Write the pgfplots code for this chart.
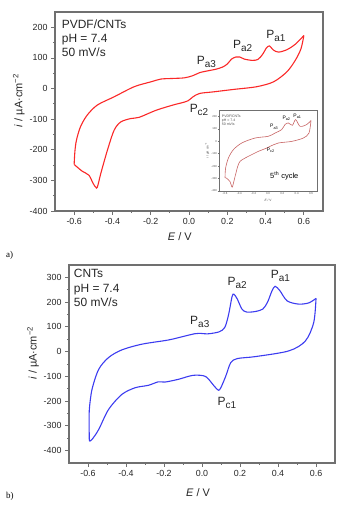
\documentclass[border=0pt]{standalone}
\usepackage{pgfplots}
\pgfplotsset{compat=1.18}
\usepackage{fontspec}
\setmainfont{Liberation Sans}
\newfontfamily\panelfont{Liberation Serif}
\definecolor{axgray}{RGB}{112,112,112}
\definecolor{cvred}{RGB}{250,40,40}
\definecolor{cvblue}{RGB}{60,60,240}
\definecolor{insred}{RGB}{200,100,100}
\newcommand{\Pk}[1]{P\raisebox{-3bp}{\fontsize{10}{10}\selectfont #1}}
\newcommand{\Pks}[1]{P\raisebox{-1.2bp}{\fontsize{3.8}{4}\selectfont #1}}
\tikzset{ann/.style={font=\fontsize{12}{13}\selectfont, anchor=base west, inner sep=0pt, text=black!85}}
\pgfplotsset{
  cvax/.style={
    scale only axis,
    axis line style={axgray, line width=1.2bp},
    every tick/.style={axgray, line width=0.8bp},
    xtick pos=bottom, ytick pos=left, tick align=outside,
    major tick length=4bp, minor tick length=2bp,
    minor x tick num=1, minor y tick num=1,
    tick label style={font=\fontsize{8.9}{10}\selectfont, text=black!85},
    /pgf/number format/assume math mode=true,
    xticklabel style={/pgf/number format/.cd, fixed, zerofill, precision=1},
    yticklabel style={/pgf/number format/.cd, fixed, precision=0},
    xtick={-0.6,-0.4,...,0.61},
    xlabel={\textit{E} / V},
    ylabel={\textit{i} / µA·cm\textsuperscript{−2}},
    every axis y label/.style={at={(axis description cs:-0.135,0.555)}, rotate=90, anchor=center, font=\fontsize{11}{12}\selectfont, text=black!85},
  },
}
\begin{document}
\begin{tikzpicture}[x=1bp,y=1bp]
\path[use as bounding box] (0,0) rectangle (351,512);
% ---------------- panel a
\begin{axis}[cvax, at={(55bp,301bp)}, anchor=south west, width=268bp, height=199bp,
  xmin=-0.7, xmax=0.7, ymin=-400, ymax=250, ytick={-400,-300,...,200},
  every axis x label/.style={at={(axis description cs:0.466,-0.13)}, anchor=center, font=\fontsize{11}{12}\selectfont, text=black!85}]
\addplot[cvred, line width=1.1bp, smooth, tension=0.5] coordinates {
(-0.6,-248) (-0.596,-205) (-0.588,-169) (-0.567,-125) (-0.532,-87) (-0.479,-54) (-0.391,-27) (-0.286,6) (-0.198,22) (-0.146,31) (-0.08,33) (-0.023,35) (0.02,42) (0.056,52) (0.1,58) (0.14,63) (0.175,70) (0.2,80) (0.222,96) (0.245,103) (0.265,103) (0.29,96) (0.33,92) (0.36,95) (0.385,112) (0.405,133) (0.421,139) (0.44,126) (0.468,119) (0.512,127) (0.556,145) (0.6,173)};
\addplot[cvred, line width=1.1bp, smooth, tension=0.5] coordinates {
(0.6,173) (0.585,130) (0.556,93) (0.512,55) (0.442,22) (0.354,6) (0.232,-3) (0.126,-11) (0.056,-16) (0.021,-27) (-0.005,-40) (-0.04,-47) (-0.084,-54) (-0.172,-71) (-0.26,-94) (-0.304,-98) (-0.356,-109) (-0.391,-136) (-0.426,-201) (-0.461,-278) (-0.475,-314) (-0.483,-325) (-0.5,-311) (-0.523,-283) (-0.558,-270) (-0.6,-248)};
\node[ann] at (axis cs:-0.665,197) {PVDF/CNTs};
\node[ann] at (axis cs:-0.665,149) {pH = 7.4};
\node[ann] at (axis cs:-0.665,103) {50 mV/s};
\node[ann] at (axis cs:0.04,77) {\Pk{a3}};
\node[ann] at (axis cs:0.23,132) {\Pk{a2}};
\node[ann] at (axis cs:0.403,165) {\Pk{a1}};
\node[ann] at (axis cs:0.003,-77) {\Pk{c2}};
\end{axis}
% ---------------- inset
\begin{axis}[scale only axis, at={(219bp,321bp)}, anchor=south west, width=98bp, height=81bp,
  xmin=-0.684, xmax=0.684, ymin=-400, ymax=250,
  axis background/.style={fill=white},
  axis line style={axgray, line width=0.6bp},
  every tick/.style={axgray, line width=0.3bp},
  xtick pos=bottom, ytick pos=left, tick align=outside, major tick length=1.2bp,
  xtick={-0.6,-0.4,...,0.61}, ytick={-400,-300,...,200},
  tick label style={font=\fontsize{2.8}{3}\selectfont, text=black!70, inner sep=0.6bp},
  /pgf/number format/assume math mode=true,
  xticklabel style={/pgf/number format/.cd, fixed, zerofill, precision=1},
  xlabel={\textit{E} / V}, ylabel={\textit{i} / µA cm\textsuperscript{−2}},
  every axis x label/.style={at={(axis description cs:0.5,-0.09)}, anchor=north, font=\fontsize{3.2}{3.5}\selectfont, text=black!70, inner sep=0.5bp},
  every axis y label/.style={at={(axis description cs:-0.12,0.5)}, rotate=90, anchor=center, font=\fontsize{3.2}{3.5}\selectfont, text=black!70, inner sep=0.5bp}]
\addplot[insred, line width=0.6bp, smooth, tension=0.5] coordinates {
(-0.6,-292) (-0.592,-217) (-0.553,-136) (-0.484,-69) (-0.367,-15) (-0.181,25) (0.005,39) (0.098,65) (0.19,92) (0.237,133) (0.284,146) (0.34,127) (0.386,173) (0.447,119) (0.54,133) (0.6,165)};
\addplot[insred, line width=0.6bp, smooth, tension=0.5] coordinates {
(0.6,165) (0.572,65) (0.493,25) (0.33,-2) (0.144,-15) (0.028,-42) (-0.019,-56) (-0.135,-82) (-0.321,-136) (-0.391,-163) (-0.423,-203) (-0.46,-284) (-0.493,-360) (-0.507,-365) (-0.53,-325) (-0.577,-298) (-0.6,-292)};
\node[anchor=base west, inner sep=0pt, font=\fontsize{3.5}{4}\selectfont, text=black!70] at (axis cs:-0.646,190) {PVDF/CNTs};
\node[anchor=base west, inner sep=0pt, font=\fontsize{3.5}{4}\selectfont, text=black!70] at (axis cs:-0.646,157) {pH = 7.4};
\node[anchor=base west, inner sep=0pt, font=\fontsize{3.5}{4}\selectfont, text=black!70] at (axis cs:-0.646,125) {50 mV/s};
\node[anchor=base west, inner sep=0pt, font=\fontsize{5}{6}\selectfont] at (axis cs:0.028,106) {\Pks{a3}};
\node[anchor=base west, inner sep=0pt, font=\fontsize{5}{6}\selectfont] at (axis cs:0.2,173) {\Pks{a2}};
\node[anchor=base west, inner sep=0pt, font=\fontsize{5}{6}\selectfont] at (axis cs:0.353,192) {\Pks{a1}};
\node[anchor=base west, inner sep=0pt, font=\fontsize{5}{6}\selectfont] at (axis cs:-0.018,-83) {\Pks{c2}};
\node[anchor=base west, inner sep=0pt, font=\fontsize{7.5}{8}\selectfont] at (axis cs:0.028,-303) {5\textsuperscript{th} cycle};
\end{axis}
% ---------------- panel b
\begin{axis}[cvax, at={(69bp,49bp)}, anchor=south west, width=266bp, height=198bp,
  xmin=-0.7, xmax=0.7, ymin=-450, ymax=350, ytick={-400,-300,...,300},
  every axis x label/.style={at={(axis description cs:0.485,-0.15)}, anchor=center, font=\fontsize{11}{12}\selectfont, text=black!85}]
\addplot[cvblue, line width=1.1bp, smooth, tension=0.5] coordinates {
(-0.593,-362) (-0.594,-300) (-0.593,-234) (-0.579,-153) (-0.544,-72) (-0.492,-24) (-0.422,7) (-0.317,30) (-0.177,47) (-0.09,63) (-0.04,72) (-0.015,74) (0.032,72) (0.09,80) (0.12,98) (0.14,150) (0.158,222) (0.168,232) (0.186,212) (0.21,172) (0.235,160) (0.28,162) (0.32,172) (0.345,200) (0.368,245) (0.385,264) (0.41,246) (0.448,205) (0.509,192) (0.562,197) (0.6,215)};
\addplot[cvblue, line width=1.1bp, smooth, tension=0.5] coordinates {
(0.6,215) (0.588,118) (0.544,43) (0.457,3) (0.282,-20) (0.186,-28) (0.151,-45) (0.125,-99) (0.099,-146) (0.086,-156) (0.064,-139) (0.02,-101) (-0.032,-95) (-0.067,-99) (-0.125,-112) (-0.195,-123) (-0.23,-122) (-0.282,-136) (-0.352,-146) (-0.422,-173) (-0.492,-234) (-0.544,-315) (-0.579,-355) (-0.593,-362)};
\node[ann] at (axis cs:-0.675,300) {CNTs};
\node[ann] at (axis cs:-0.675,239) {pH = 7.4};
\node[ann] at (axis cs:-0.675,182) {50 mV/s};
\node[ann] at (axis cs:-0.063,111) {\Pk{a3}};
\node[ann] at (axis cs:0.134,266) {\Pk{a2}};
\node[ann] at (axis cs:0.361,296) {\Pk{a1}};
\node[ann] at (axis cs:0.081,-218) {\Pk{c1}};
\end{axis}
\node[anchor=base west, inner sep=0pt, font=\panelfont\fontsize{9}{10}\selectfont] at (6,512-258) {a)};
\node[anchor=base west, inner sep=0pt, font=\panelfont\fontsize{9}{10}\selectfont] at (6,512-499) {b)};
\end{tikzpicture}
\end{document}
